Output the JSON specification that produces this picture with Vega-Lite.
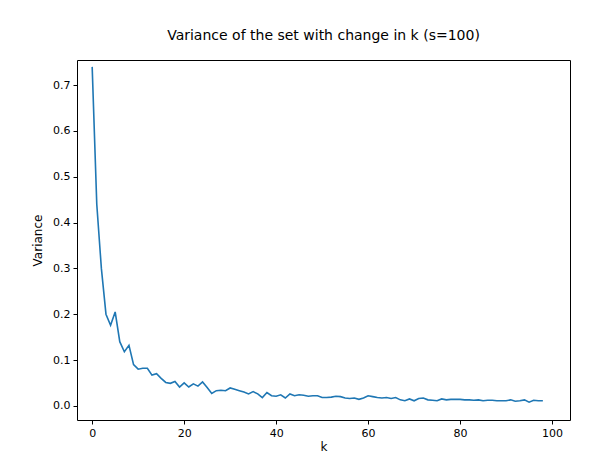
{
  "$schema": "https://vega.github.io/schema/vega-lite/v6.json",
  "autosize": {"type": "none"},
  "padding": {"left": 77, "top": 60, "right": 43, "bottom": 47},
  "width": 493,
  "height": 360,
  "background": "white",
  "title": {"text": "Variance of the set with change in k (s=100)", "font": "DejaVu Sans", "fontSize": 14, "fontWeight": "normal", "offset": 17},
  "data": {"values": [
    {"k":0,"v":0.74},{"k":1,"v":0.44},{"k":2,"v":0.30},{"k":3,"v":0.20},{"k":4,"v":0.176},{"k":5,"v":0.205},{"k":6,"v":0.14},{"k":7,"v":0.118},{"k":8,"v":0.132},{"k":9,"v":0.09},
    {"k":10,"v":0.08},{"k":11,"v":0.082},{"k":12,"v":0.082},{"k":13,"v":0.067},{"k":14,"v":0.07},{"k":15,"v":0.06},{"k":16,"v":0.051},{"k":17,"v":0.049},{"k":18,"v":0.053},{"k":19,"v":0.041},
    {"k":20,"v":0.05},{"k":21,"v":0.041},{"k":22,"v":0.048},{"k":23,"v":0.043},{"k":24,"v":0.052},{"k":25,"v":0.04},{"k":26,"v":0.027},{"k":27,"v":0.033},{"k":28,"v":0.034},{"k":29,"v":0.033},
    {"k":30,"v":0.039},{"k":31,"v":0.036},{"k":32,"v":0.033},{"k":33,"v":0.03},{"k":34,"v":0.026},{"k":35,"v":0.031},{"k":36,"v":0.026},{"k":37,"v":0.018},{"k":38,"v":0.029},{"k":39,"v":0.022},
    {"k":40,"v":0.021},{"k":41,"v":0.024},{"k":42,"v":0.017},{"k":43,"v":0.026},{"k":44,"v":0.022},{"k":45,"v":0.024},{"k":46,"v":0.023},{"k":47,"v":0.021},{"k":48,"v":0.022},{"k":49,"v":0.022},
    {"k":50,"v":0.018},{"k":51,"v":0.018},{"k":52,"v":0.019},{"k":53,"v":0.021},{"k":54,"v":0.02},{"k":55,"v":0.017},{"k":56,"v":0.016},{"k":57,"v":0.017},{"k":58,"v":0.014},{"k":59,"v":0.017},
    {"k":60,"v":0.022},{"k":61,"v":0.02},{"k":62,"v":0.018},{"k":63,"v":0.017},{"k":64,"v":0.018},{"k":65,"v":0.016},{"k":66,"v":0.018},{"k":67,"v":0.013},{"k":68,"v":0.011},{"k":69,"v":0.015},
    {"k":70,"v":0.011},{"k":71,"v":0.016},{"k":72,"v":0.017},{"k":73,"v":0.013},{"k":74,"v":0.012},{"k":75,"v":0.011},{"k":76,"v":0.015},{"k":77,"v":0.013},{"k":78,"v":0.014},{"k":79,"v":0.014},
    {"k":80,"v":0.014},{"k":81,"v":0.013},{"k":82,"v":0.013},{"k":83,"v":0.012},{"k":84,"v":0.013},{"k":85,"v":0.011},{"k":86,"v":0.012},{"k":87,"v":0.012},{"k":88,"v":0.011},{"k":89,"v":0.011},
    {"k":90,"v":0.011},{"k":91,"v":0.013},{"k":92,"v":0.01},{"k":93,"v":0.011},{"k":94,"v":0.013},{"k":95,"v":0.008},{"k":96,"v":0.012},{"k":97,"v":0.011},{"k":98,"v":0.011}
  ]},
  "mark": {"type": "line", "color": "#1f77b4", "strokeWidth": 1.6},
  "encoding": {
    "x": {"field": "k", "type": "quantitative", "title": "k",
      "scale": {"domain": [-3.3, 103.9], "nice": false, "zero": false},
      "axis": {"values": [0, 20, 40, 60, 80, 100], "grid": false}},
    "y": {"field": "v", "type": "quantitative", "title": "Variance",
      "scale": {"domain": [-0.031, 0.755], "nice": false, "zero": false},
      "axis": {"values": [0, 0.1, 0.2, 0.3, 0.4, 0.5, 0.6, 0.7], "format": ".1f", "grid": false}}
  },
  "config": {
    "view": {"stroke": "black", "strokeWidth": 1},
    "axis": {"labelFont": "DejaVu Sans", "titleFont": "DejaVu Sans", "labelFontSize": 11, "titleFontSize": 12, "titleFontWeight": "normal",
      "labelColor": "black", "titleColor": "black", "tickColor": "black", "domain": false, "tickSize": 4, "labelPadding": 3},
    "axisX": {"titlePadding": 3},
    "axisY": {"titlePadding": 8}
  }
}
